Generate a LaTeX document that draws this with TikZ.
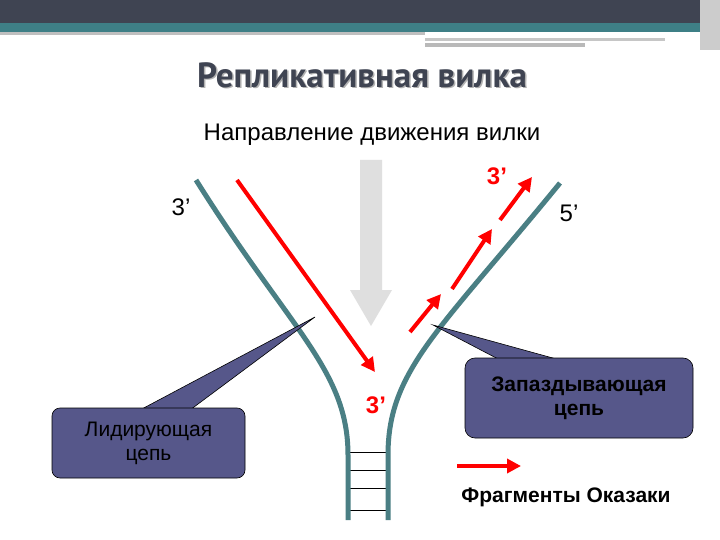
\documentclass[tikz,border=0pt]{standalone}
\usepackage{fontspec}
\usetikzlibrary{arrows.meta}
\setmainfont{Liberation Sans}[Ligatures=NoCommon]
\newfontfamily\titlefont{PT Sans}
\newcommand{\pr}{\char"0027\relax}
\begin{document}
\begin{tikzpicture}[x=1pt,y=-1pt,
 redarr/.style={line width=4pt,red,-{Triangle[length=14pt,width=14pt]}},
 callout/.style={fill=boxc,draw=black,line width=0.6pt},
 lbl/.style={font=\fontsize{21}{24}\selectfont}]
\definecolor{boxc}{HTML}{56578A}
\definecolor{strandc}{HTML}{4A7F84}
\definecolor{topdark}{HTML}{3F4452}
\definecolor{topteal}{HTML}{3E7F86}
\useasboundingbox (0,0) rectangle (720,540);
\fill[white] (0,0) rectangle (720,540);
% top bar
\fill[topdark] (0,0) rectangle (720,23);
\fill[topteal] (0,23) rectangle (720,32);
\fill[gray!50] (0,32) rectangle (425,35);
\fill[gray!45] (425,38) rectangle (665,41);
\fill[gray!55] (425,43) rectangle (585,47);
\fill[gray!40] (700,0) rectangle (720,50);
% title
\node[text=gray!60,font=\titlefont\bfseries\fontsize{35}{40}\selectfont] at (363.5,76.5) {Репликативная вилка};
\node (title) [text=topdark,font=\titlefont\bfseries\fontsize{35}{40}\selectfont] at (362,75) {Репликативная вилка};
\node (dir) [font=\fontsize{24}{28}\selectfont] at (372,135) {Направление движения вилки};
% gray arrow
\fill[gray!25] (360,160) -- (382,160) -- (382,290) -- (392,290) -- (371,326) -- (350,290) -- (360,290) -- cycle;
% ladder
\foreach \yy in {452,470,488,510} \draw[line width=0.7pt] (348,\yy) -- (388,\yy);
% strands
\draw[line width=5pt,strandc] (196,180) .. controls (290,330) and (348,370) .. (348,455) -- (348,520);
\draw[line width=5pt,strandc] (560,183) .. controls (440,330) and (388,370) .. (388,455) -- (388,520);
% callouts
\fill[boxc,draw=black,line width=0.6pt] (140,410) -- (315,317) -- (190,410) -- cycle;
\node (lead) [callout,rounded corners=8pt,minimum width=193pt,minimum height=70pt,align=center,lbl] at (148.5,443) {Лидирующая\\цепь};
\fill[boxc,draw=black,line width=0.6pt] (500,360) -- (433,325) -- (560,360) -- cycle;
\node (lag) [callout,rounded corners=10pt,minimum width=228pt,minimum height=80pt,align=center,font=\bfseries\fontsize{21}{24}\selectfont] at (579,398) {Запаздывающая\\цепь};
% red arrows
\coordinate (a1) at (237,180); \coordinate (a2) at (375,372);
\draw[redarr] (a1) -- (a2);
\coordinate (b1) at (410,332); \coordinate (b2) at (441,294);
\draw[redarr] (b1) -- (b2);
\coordinate (c1) at (452,289); \coordinate (c2) at (492,229);
\draw[redarr] (c1) -- (c2);
\coordinate (d1) at (500,220); \coordinate (d2) at (532,177);
\draw[redarr] (d1) -- (d2);
\coordinate (e1) at (457,466); \coordinate (e2) at (521,466);
\draw[redarr] (e1) -- (e2);
% labels
\node (t3a) [red,font=\bfseries\fontsize{24}{28}\selectfont] at (497,176) {3\pr};
\node (t3b) [red,font=\bfseries\fontsize{24}{28}\selectfont] at (376,405) {3\pr};
\node (t3c) [font=\fontsize{24}{28}\selectfont] at (181,207) {3\pr};
\node (t5) [font=\fontsize{24}{28}\selectfont] at (569,213) {5\pr};
\node (frag) [font=\bfseries\fontsize{21}{24}\selectfont] at (566,497) {Фрагменты Оказаки};
\end{tikzpicture}
\end{document}
